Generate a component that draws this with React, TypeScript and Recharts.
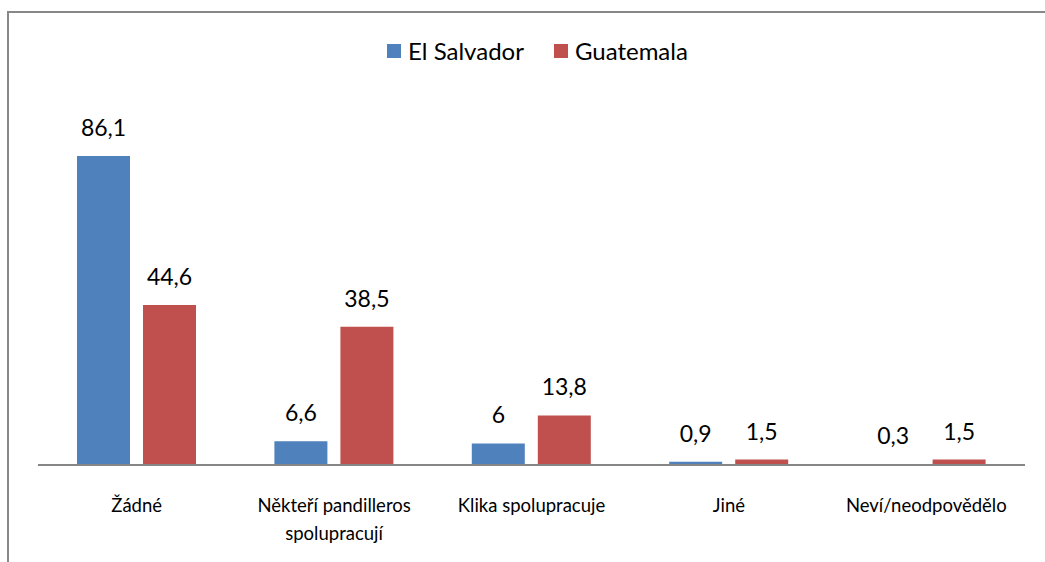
import { Bar, BarChart, LabelList, Legend, Text, XAxis, YAxis } from "recharts";

const categories = [
  "Žádné",
  "Někteří pandilleros spolupracují",
  "Klika spolupracuje",
  "Jiné",
  "Neví/neodpovědělo",
];
const elSalvador = [86.1, 6.6, 6, 0.9, 0.3];
const guatemala = [44.6, 38.5, 13.8, 1.5, 1.5];

const DATA = categories.map((name, i) => ({
  name,
  elSalvador: elSalvador[i],
  guatemala: guatemala[i],
}));

const BLUE = "#4F81BD";
const RED = "#C0504D";
const FONT = "Lato, 'Open Sans', sans-serif";

const fmt = (v: unknown) => String(v).replace(".", ",");

function CategoryTick(props: any) {
  const { x, y, payload } = props;
  return (
    <Text
      x={x}
      y={y + 26}
      width={200}
      textAnchor="middle"
      verticalAnchor="start"
      fontSize={18.5}
      fill="#000"
      lineHeight={28}
    >
      {payload.value}
    </Text>
  );
}

function LegendBox() {
  const items = [
    { label: "El Salvador", color: BLUE },
    { label: "Guatemala", color: RED },
  ];
  return (
    <div style={{ display: "flex", justifyContent: "center", gap: 30, fontSize: 24, lineHeight: "28px", paddingLeft: 30 }}>
      {items.map((it) => (
        <div key={it.label} style={{ display: "flex", alignItems: "center", gap: 7 }}>
          <span style={{ width: 14, height: 14, background: it.color, display: "inline-block" }} />
          <span>{it.label}</span>
        </div>
      ))}
    </div>
  );
}

export default function App() {
  return (
    <div
      style={{
        position: "absolute",
        left: 0,
        top: 0,
        width: 1045,
        height: 562,
        background: "#fff",
        overflow: "hidden",
        fontFamily: FONT,
      }}
    >
      <div
        style={{
          position: "absolute",
          left: 7,
          top: 11,
          width: 1100,
          height: 600,
          borderTop: "2px solid #888",
          borderLeft: "2px solid #888",
        }}
      />
      <BarChart
        width={1045}
        height={562}
        data={DATA}
        margin={{ top: 78, right: 20, bottom: 67, left: 38 }}
        barCategoryGap={39}
        barGap={13}
        style={{ position: "absolute", left: 0, top: 0, fontFamily: FONT }}
      >
        <XAxis
          dataKey="name"
          interval={0}
          height={30}
          tickLine={false}
          axisLine={{ stroke: "#868686", strokeWidth: 2 }}
          tick={<CategoryTick />}
        />
        <YAxis hide domain={[0, 100]} />
        <Legend
          verticalAlign="top"
          height={28}
          content={<LegendBox />}
          wrapperStyle={{ top: 37, left: 0, width: 1045 }}
        />
        <Bar dataKey="elSalvador" name="El Salvador" fill={BLUE} isAnimationActive={false}>
          <LabelList dataKey="elSalvador" position="top" offset={20} formatter={fmt} fill="#000" fontSize={23} />
        </Bar>
        <Bar dataKey="guatemala" name="Guatemala" fill={RED} isAnimationActive={false}>
          <LabelList dataKey="guatemala" position="top" offset={20} formatter={fmt} fill="#000" fontSize={23} />
        </Bar>
      </BarChart>
    </div>
  );
}
